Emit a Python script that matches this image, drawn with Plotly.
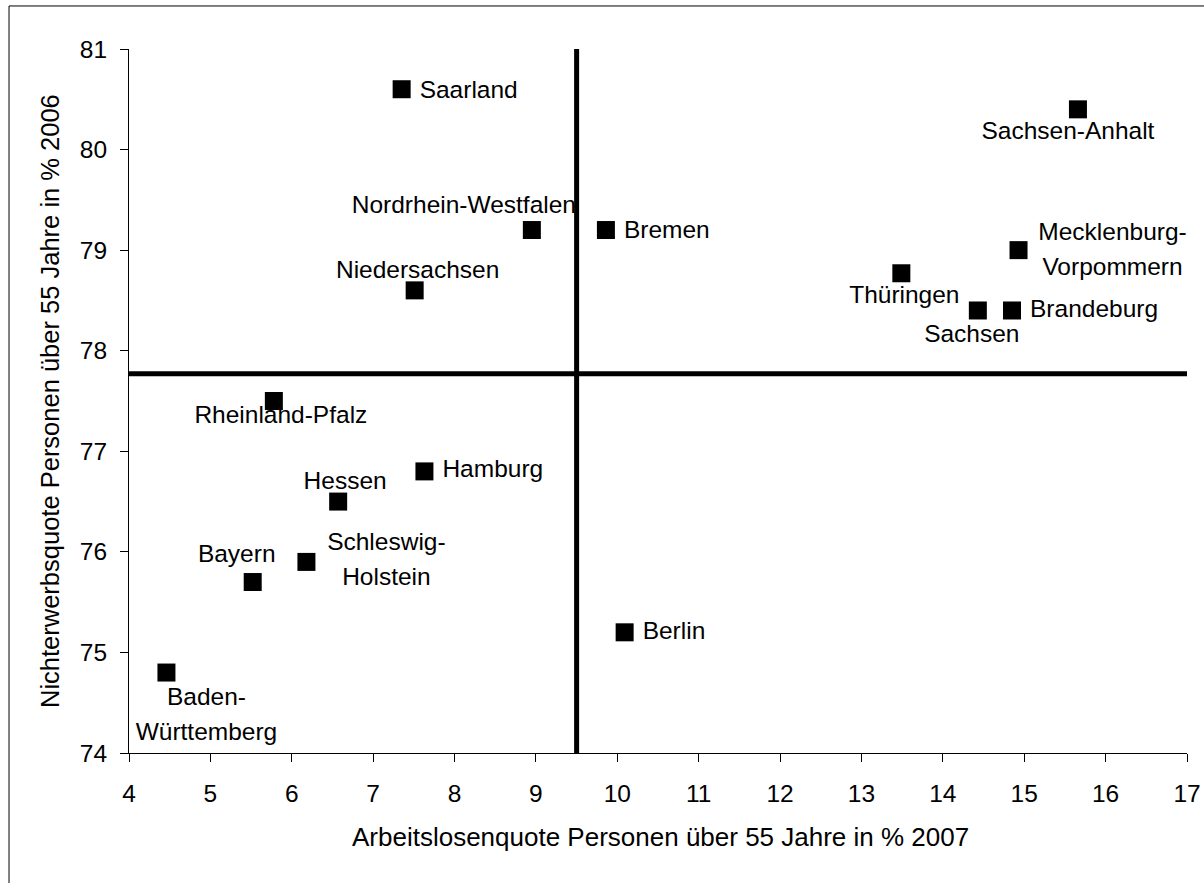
import plotly.graph_objects as go

# ---- data ----
states = ["Saarland", "Sachsen-Anhalt", "Nordrhein-Westfalen", "Bremen", "Niedersachsen",
          "Mecklenburg-<br>Vorpommern", "Thüringen", "Sachsen", "Brandeburg",
          "Rheinland-Pfalz", "Hamburg", "Hessen", "Schleswig-<br>Holstein", "Bayern",
          "Berlin", "Baden-<br>Württemberg"]
arbeitslos = [7.35, 15.66, 8.95, 9.86, 7.51, 14.93, 13.49, 14.43, 14.85,
              5.78, 7.63, 6.57, 6.18, 5.52, 10.09, 4.46]
nichterwerb = [80.6, 80.4, 79.2, 79.2, 78.6, 79.0, 78.77, 78.4, 78.4,
               77.5, 76.8, 76.5, 75.9, 75.7, 75.2, 74.8]
mean_x = 9.5
mean_y = 77.77
x_ticks = list(range(4, 18))
y_ticks = list(range(74, 82))
x_title = "Arbeitslosenquote Personen über 55 Jahre in % 2007"
y_title = "Nichterwerbsquote Personen über 55 Jahre in % 2006"

# ---- label placement (pixel offsets from the marker centre: dx right, dy down; anchor) ----
label_style = {
    "Saarland": (18, 0, "left"),
    "Sachsen-Anhalt": (-10, 21, "center"),
    "Nordrhein-Westfalen": (-68, -26, "center"),
    "Bremen": (18, -1, "left"),
    "Niedersachsen": (3, -21, "center"),
    "Mecklenburg-<br>Vorpommern": (94, -1, "center"),
    "Thüringen": (3, 21, "center"),
    "Sachsen": (-6, 23, "center"),
    "Brandeburg": (18, -2, "left"),
    "Rheinland-Pfalz": (7, 13, "center"),
    "Hamburg": (18, -3, "left"),
    "Hessen": (7, -21, "center"),
    "Schleswig-<br>Holstein": (80, -3, "center"),
    "Bayern": (-16, -29, "center"),
    "Berlin": (18, -2, "left"),
    "Baden-<br>Württemberg": (40, 41, "center"),
}

FONT = "Liberation Sans, Arial, sans-serif"
FS = 24.5
FS_TITLE = 26
LINE_GAP = 35

W, H = 1204, 883
ML, MR, MT, MB = 128.5, 17.3, 49, 130.3
XMIN, XMAX = x_ticks[0], x_ticks[-1]
YMIN, YMAX = y_ticks[0], y_ticks[-1]
PW, PH = W - ML - MR, H - MT - MB
PX_X = PW / (XMAX - XMIN)
PX_Y = PH / (YMAX - YMIN)

fig = go.Figure()

fig.add_trace(go.Scatter(
    x=arbeitslos, y=nichterwerb, mode="markers",
    marker=dict(symbol="square", size=18, color="black", line=dict(width=0)),
    hoverinfo="skip", showlegend=False,
))

# text labels as a text trace (so the mean lines are drawn above them)
tx, ty, tt, tp = [], [], [], []
for name, xv, yv in zip(states, arbeitslos, nichterwerb):
    dx, dy, anchor = label_style[name]
    lines = name.split("<br>")
    n = len(lines)
    for i, line in enumerate(lines):
        off = (i - (n - 1) / 2) * LINE_GAP
        tx.append(xv + dx / PX_X)
        ty.append(yv - (dy + off + 2.5) / PX_Y)
        tt.append(line)
        tp.append("middle right" if anchor == "left" else "middle center")

fig.add_trace(go.Scatter(
    x=tx, y=ty, text=tt, mode="text", textposition=tp,
    textfont=dict(family=FONT, size=FS, color="black"),
    hoverinfo="skip", showlegend=False, cliponaxis=False,
))

# mean lines
fig.add_shape(type="line", xref="x", yref="y", x0=mean_x, x1=mean_x, y0=YMIN, y1=YMAX,
              line=dict(color="black", width=5), layer="above")
fig.add_shape(type="line", xref="x", yref="y", x0=XMIN, x1=XMAX, y0=mean_y, y1=mean_y,
              line=dict(color="black", width=5), layer="above")

# outer frame (only its left and top edges fall inside the window)
fig.add_shape(type="rect", xref="paper", yref="paper",
              x0=(8.5 - ML) / PW, x1=1.3,
              y0=-0.5, y1=1 + (MT - 6) / PH,
              line=dict(color="black", width=1), fillcolor="rgba(0,0,0,0)", layer="below")

# axis titles
fig.add_annotation(text=x_title, xref="paper", yref="paper", x=0.5, y=0,
                   xanchor="center", yanchor="middle", xshift=2, yshift=-84,
                   showarrow=False, font=dict(family=FONT, size=FS_TITLE, color="black"))
fig.add_annotation(text=y_title, xref="paper", yref="paper", x=0, y=0.5,
                   xanchor="center", yanchor="middle", xshift=-79, yshift=0, textangle=-90,
                   showarrow=False, font=dict(family=FONT, size=25.5, color="black"))

axis_common = dict(
    showgrid=False, zeroline=False, showline=True, linecolor="black", linewidth=1,
    ticks="outside", ticklen=8, tickwidth=1, tickcolor="black", automargin=False,
    tickfont=dict(family=FONT, size=FS, color="black"),
)

fig.update_layout(
    width=W, height=H,
    margin=dict(l=ML, r=MR, t=MT, b=MB, pad=0, autoexpand=False),
    paper_bgcolor="white", plot_bgcolor="white",
    font=dict(family=FONT, size=FS, color="black"),
    xaxis=dict(range=[XMIN, XMAX], tickvals=x_ticks, ticktext=[str(v) for v in x_ticks],
               ticklabelposition="outside", ticklabelstandoff=11, **axis_common),
    yaxis=dict(range=[YMIN, YMAX], tickvals=y_ticks, ticktext=[str(v) for v in y_ticks],
               ticklabelposition="outside", ticklabelstandoff=8, **axis_common),
    showlegend=False,
)

# remove the browser's default 8px page margin so the figure fills the window exactly
fig.write_html("out.html", config={"displayModeBar": False},
               post_script="document.body.style.margin='0';document.body.style.overflow='hidden';")
